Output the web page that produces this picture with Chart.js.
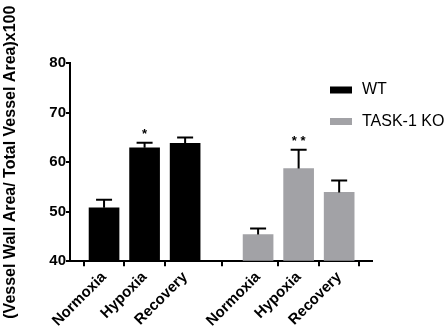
<!DOCTYPE html>
<html>
<head>
<meta charset="utf-8">
<script src="https://cdn.jsdelivr.net/npm/chart.js@4.4.0/dist/chart.umd.min.js"></script>
<style>
  html, body { margin: 0; padding: 0; background: #fff; }
  #wrap { width: 448px; height: 332px; }
</style>
</head>
<body>
<div id="wrap"><canvas id="grafico"></canvas></div>
<script>
// datos
var condiciones = ['Normoxia', 'Hypoxia', 'Recovery'];
var posWT = [0, 1, 2];
var posKO = [3.8, 4.8, 5.8];
var mediaWT = [50.8, 62.9, 63.8];
var errorWT = [1.6, 1.0, 1.2];
var mediaKO = [45.4, 58.7, 53.9];
var errorKO = [1.2, 3.8, 2.4];
var estrellasWT = ['', '*', ''];
var estrellasKO = ['', '**', ''];
var ticksY = [40, 50, 60, 70, 80];

var fuente = "'Liberation Sans', Arial, sans-serif";
var colorWT = '#000000';
var colorKO = '#a2a2a6';

var todasPos = posWT.concat(posKO);
var todasEtiquetas = condiciones.concat(condiciones);

function puntos(xs, ys) {
  return xs.map(function(x, i) { return { x: x, y: ys[i] }; });
}

// barras de error hacia arriba + asteriscos
var pluginErrores = {
  id: 'errores',
  afterDatasetsDraw: function(chart) {
    var ctx = chart.ctx;
    var sx = chart.scales.x, sy = chart.scales.y;
    var grupos = [[posWT, mediaWT, errorWT, estrellasWT], [posKO, mediaKO, errorKO, estrellasKO]];
    ctx.save();
    ctx.strokeStyle = '#000';
    ctx.fillStyle = '#000';
    ctx.lineWidth = 2;
    grupos.forEach(function(g) {
      g[0].forEach(function(x, i) {
        var px = sx.getPixelForValue(x);
        var y0 = sy.getPixelForValue(g[1][i]);
        var y1 = sy.getPixelForValue(g[1][i] + g[2][i]);
        ctx.beginPath();
        ctx.moveTo(px, y0);
        ctx.lineTo(px, y1);
        ctx.moveTo(px - 8, y1);
        ctx.lineTo(px + 8, y1);
        ctx.stroke();
        if (g[3][i]) {
          ctx.font = 'bold 13px ' + fuente;
          ctx.textAlign = 'center';
          ctx.textBaseline = 'middle';
          ctx.fillText(g[3][i].split('').join(' '), px, y1 - 8);
        }
      });
    });
    ctx.restore();
  }
};

// leyenda dentro del area
var pluginLeyenda = {
  id: 'leyendaPropia',
  afterDraw: function(chart) {
    var ctx = chart.ctx;
    var items = chart.data.datasets;
    ctx.save();
    ctx.font = '16px ' + fuente;
    ctx.textAlign = 'left';
    ctx.textBaseline = 'middle';
    items.forEach(function(ds, i) {
      var cy = 90 + i * 31.5;
      ctx.fillStyle = ds.backgroundColor;
      ctx.fillRect(330, cy - 3.5, 22, 7);
      ctx.fillStyle = '#000';
      ctx.fillText(ds.label, 362, cy);
    });
    ctx.restore();
  }
};

var ctx1 = document.getElementById('grafico').getContext('2d');
var grafico = new Chart(ctx1, {
  type: 'bar',
  data: {
    datasets: [{
      label: 'WT',
      data: puntos(posWT, mediaWT),
      backgroundColor: colorWT,
      base: 40,
      barThickness: 30,
      grouped: false
    }, {
      label: 'TASK-1 KO',
      data: puntos(posKO, mediaKO),
      backgroundColor: colorKO,
      base: 40,
      barThickness: 30,
      grouped: false
    }]
  },
  options: {
    responsive: true,
    maintainAspectRatio: false,
    animation: false,
    layout: { padding: { top: 63, right: 76, left: 0, bottom: 0 } },
    plugins: {
      legend: { display: false },
      tooltip: { enabled: false }
    },
    scales: {
      x: {
        type: 'linear',
        offset: false,
        min: -0.84,
        max: 6.61,
        afterBuildTicks: function(scale) {
          scale.ticks = todasPos.map(function(v) { return { value: v }; });
        },
        afterFit: function(scale) {
          scale.paddingLeft = 0;
          scale.paddingRight = 0;
        },
        grid: { drawOnChartArea: false, drawTicks: true, tickLength: 5, color: '#000', lineWidth: 2 },
        border: { display: true, color: '#000', width: 2 },
        ticks: {
          autoSkip: false,
          minRotation: 45,
          maxRotation: 45,
          padding: 2,
          color: '#000',
          font: { family: fuente, size: 15, weight: 'bold' },
          callback: function(value, index) { return todasEtiquetas[index]; }
        }
      },
      y: {
        min: 40,
        max: 80,
        afterBuildTicks: function(scale) {
          scale.ticks = ticksY.map(function(v) { return { value: v }; });
        },
        afterFit: function(scale) {
          scale.width = 70;
        },
        grid: { drawOnChartArea: false, drawTicks: true, tickLength: 4, color: '#000', lineWidth: 2 },
        border: { display: true, color: '#000', width: 2 },
        ticks: {
          padding: 0,
          color: '#000',
          font: { family: fuente, size: 15, weight: 'bold' }
        },
        title: {
          display: true,
          text: '(Vessel Wall Area/ Total Vessel Area)x100',
          color: '#000',
          font: { family: fuente, size: 16, weight: 'bold' },
          padding: { top: 1, bottom: -2 }
        }
      }
    }
  },
  plugins: [pluginErrores, pluginLeyenda]
});
</script>
</body>
</html>
